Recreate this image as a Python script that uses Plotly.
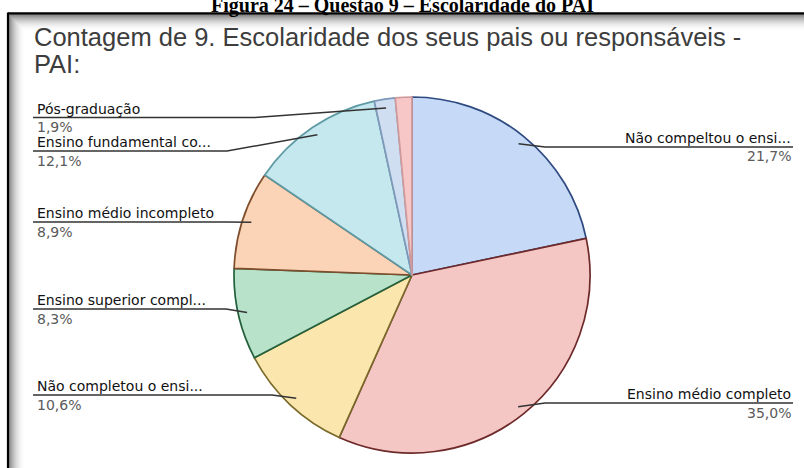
import math
import plotly.graph_objects as go

# Answers to "9. Escolaridade dos seus pais ou responsáveis - PAI" (share of responses, %)
categories = [
    "Não compeltou o ensi...",
    "Ensino médio completo",
    "Não completou o ensi...",
    "Ensino superior compl...",
    "Ensino médio incompleto",
    "Ensino fundamental co...",
    "Pós-graduação",
    "Outros",
]
percentages = [21.7, 35.0, 10.6, 8.3, 8.9, 12.1, 1.9, 1.5]
labelled = [True, True, True, True, True, True, True, False]

slice_colors = ["#c6d9f6", "#f5c7c4", "#fbe6ad", "#b9e2cb", "#fbd3b6",
                "#c4e8ee", "#cfdef1", "#f7c6c6"]
edge_colors = ["#2f4a80", "#6e2a2a", "#7a6a2a", "#24603c", "#7e4e2c",
               "#5d9aa4", "#7d98b8", "#d09a9a"]

# callout layout: side, underline height (px from top), elbow x (px)
callout_side = ["right", "right", "left", "left", "left", "left", "left"]
callout_line_y = [147, 403, 395, 309, 222, 151, 117.5]
callout_elbow_x = [545, 545, 272, 226, 226, 227, 255]

W, H = 804, 468
CX, CY, R = 412, 275, 178          # pie centre and radius in pixels
LEFT_X, RIGHT_X = 33, 793


def px(x):
    return x / W


def py(y):
    return 1 - y / H


fig = go.Figure(go.Pie(
    labels=categories,
    values=percentages,
    sort=False,
    direction="clockwise",
    rotation=0,
    textinfo="none",
    hoverinfo="skip",
    marker=dict(colors=slice_colors, line=dict(color=edge_colors, width=1.7)),
    domain=dict(x=[px(CX - R), px(CX + R)], y=[py(CY + R), py(CY - R)]),
    showlegend=False,
))

shapes = []
annotations = []

# frame with an inner shadow along the top and left edges
for k in range(16):
    a = 0.45 * (1 - k / 16) ** 2
    shapes.append(dict(type="rect", xref="paper", yref="paper",
                       x0=px(9 + k), x1=px(10 + k), y0=py(H), y1=py(15 + k),
                       fillcolor=f"rgba(0,0,0,{a:.3f})", line_width=0, layer="below"))
    shapes.append(dict(type="rect", xref="paper", yref="paper",
                       x0=px(10 + k), x1=px(W), y0=py(16 + k), y1=py(15 + k),
                       fillcolor=f"rgba(0,0,0,{a:.3f})", line_width=0, layer="below"))
shapes.append(dict(type="line", xref="paper", yref="paper",
                   x0=px(8), x1=px(W), y0=py(13.5), y1=py(13.5),
                   line=dict(color="black", width=2.6)))
shapes.append(dict(type="line", xref="paper", yref="paper",
                   x0=px(8), x1=px(8), y0=py(12.5), y1=py(H),
                   line=dict(color="black", width=2.2)))

# callouts: anchor each leader line on its slice's mid angle
total = sum(percentages)
start = 0.0
for i, v in enumerate(percentages):
    mid = start + v / 2
    start += v
    if not labelled[i]:
        continue
    ang = math.radians(mid / total * 360)
    ax = CX + 0.95 * R * math.sin(ang)
    ay = CY - 0.95 * R * math.cos(ang)
    ly = callout_line_y[i]
    ex = callout_elbow_x[i]
    if callout_side[i] == "left":
        pts = [(LEFT_X, ly), (ex, ly), (ax, ay)]
        tx, anchor = LEFT_X + 2, "left"
    else:
        pts = [(ax, ay), (ex, ly), (RIGHT_X, ly)]
        tx, anchor = RIGHT_X, "right"
    path = "M " + " L ".join(f"{px(x):.5f},{py(y):.5f}" for x, y in pts)
    shapes.append(dict(type="path", xref="paper", yref="paper", path=path,
                       line=dict(color="#333333", width=1.5)))
    annotations.append(dict(
        text=categories[i], x=px(tx), y=py(ly - 9), xref="paper", yref="paper",
        xanchor=anchor, yanchor="middle", showarrow=False,
        font=dict(family="DejaVu Sans", size=14, color="#111111")))
    annotations.append(dict(
        text=f"{v:.1f}".replace(".", ",") + "%", x=px(tx), y=py(ly + 9.5),
        xref="paper", yref="paper", xanchor=anchor, yanchor="middle",
        showarrow=False, font=dict(family="DejaVu Sans", size=14, color="#5a5a5a")))

# chart title (two lines)
annotations.append(dict(
    text="Contagem de 9. Escolaridade dos seus pais ou responsáveis -",
    x=px(32), y=py(37), xref="paper", yref="paper", xanchor="left",
    yanchor="middle", showarrow=False,
    font=dict(family="Liberation Sans", size=25.5, color="#3d3d3d")))
annotations.append(dict(
    text="PAI:", x=px(32), y=py(64), xref="paper", yref="paper", xanchor="left",
    yanchor="middle", showarrow=False,
    font=dict(family="Liberation Sans", size=25.5, color="#3d3d3d")))

# figure caption above the frame
annotations.append(dict(
    text="<b>Figura 24 – Questão 9 – Escolaridade do PAI</b>",
    x=0.5, y=py(6), xref="paper", yref="paper", xanchor="center",
    yanchor="middle", showarrow=False,
    font=dict(family="Liberation Serif", size=20, color="black")))

fig.update_layout(
    width=W, height=H,
    margin=dict(l=0, r=0, t=0, b=0),
    paper_bgcolor="white",
    plot_bgcolor="white",
    shapes=shapes,
    annotations=annotations,
)

fig.write_html("out.html")
